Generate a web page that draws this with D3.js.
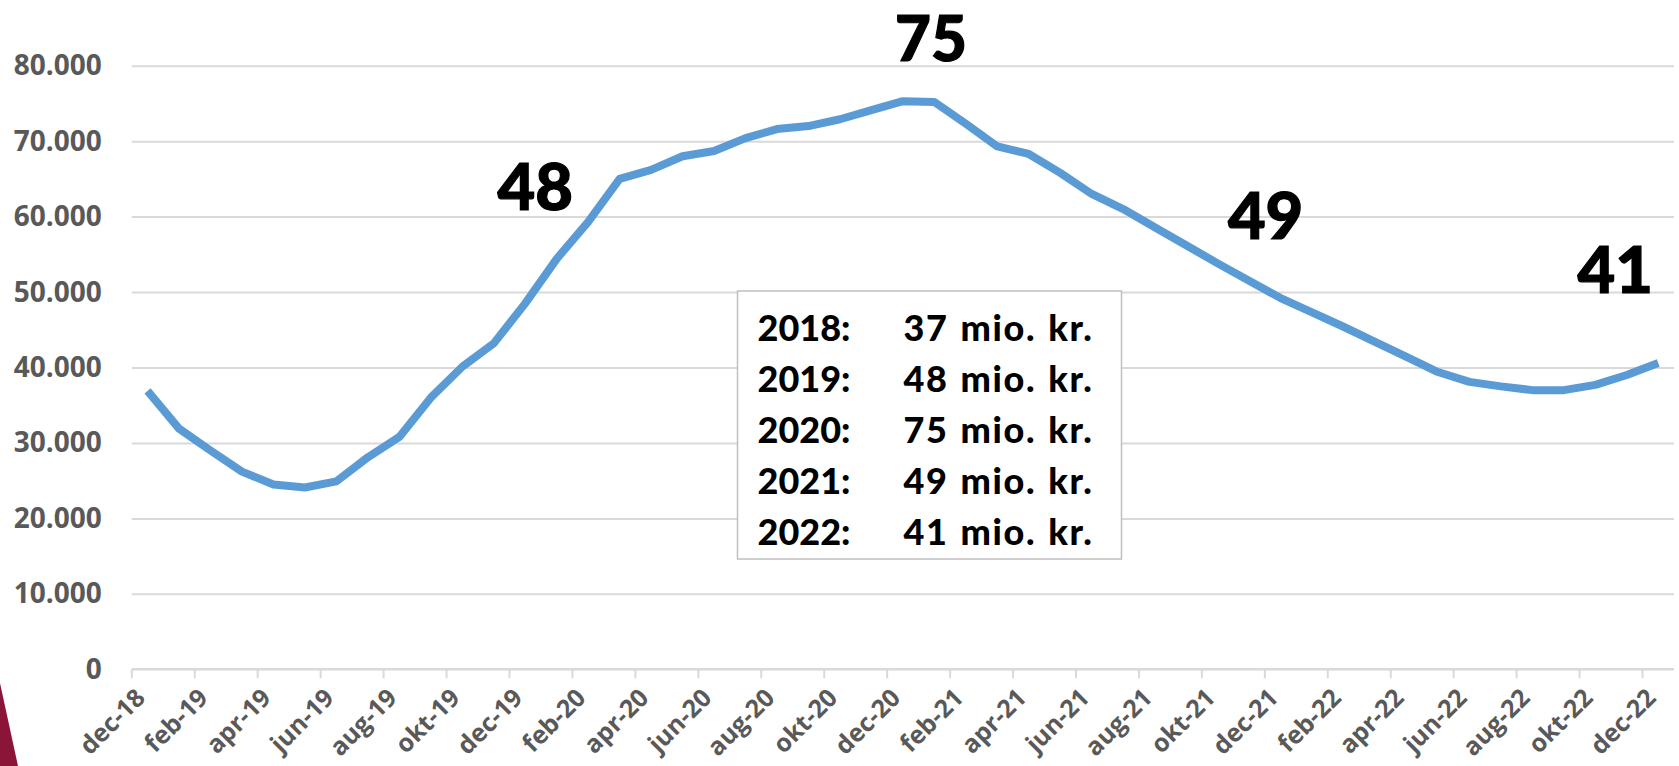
<!DOCTYPE html>
<html>
<head>
<meta charset="utf-8">
<script src="https://cdn.jsdelivr.net/npm/d3@7"></script>
<style>
  body { margin: 0; background: #fff; }
  #chart { display: block; }
  .ytick { font-family: "Open Sans", sans-serif; font-weight: 700; font-size: 28px; fill: #595959; }
  .big { font-family: Lato, "Open Sans", sans-serif; font-weight: 900; font-size: 65px; fill: #000; stroke: #000; stroke-width: 1.2px; }
  .boxtxt { font-family: Lato, "Open Sans", sans-serif; font-weight: 900; font-size: 36px; fill: #000; }
  .boxval { letter-spacing: 1.6px; word-spacing: 2px; }
</style>
</head>
<body>
<svg id="chart" width="1679" height="766"></svg>
<script>

/*    ========    DATA    =========    */

// monthly, dec-18 .. dec-22
var MONTHS = ["jan", "feb", "mar", "apr", "maj", "jun", "jul", "aug", "sep", "okt", "nov", "dec"];
var categories = [];
for (var yr = 18; yr <= 22; yr++) {
    MONTHS.forEach(function(m) { categories.push(m + "-" + yr); });
}
categories = categories.slice(11);   // start at dec-18

var values = [
    36900, 31900, 29000, 26200, 24500, 24100, 24900, 28100, 30800, 36000, 40100, 43200,
    48500, 54400, 59300, 65000, 66200, 68000, 68700, 70400, 71600, 72000, 72900, 74100,
    75300, 75200, 72300, 69300, 68300, 65800, 63000, 61000, 58600, 56200, 53800, 51500,
    49200, 47300, 45400, 43400, 41400, 39400, 38100, 37500, 37000, 37000, 37700, 39000,
    40600
];

var yTicks = [0, 10000, 20000, 30000, 40000, 50000, 60000, 70000, 80000];

// big year-end labels (mio. kr.) and the month they sit over
var callouts = [
    { label: "48", at: "dec-19" },
    { label: "75", at: "dec-20" },
    { label: "49", at: "dec-21" },
    { label: "41", at: "dec-22" }
];

var boxYears = ["2018:", "2019:", "2020:", "2021:", "2022:"];
var boxValues = ["37 mio. kr.", "48 mio. kr.", "75 mio. kr.", "49 mio. kr.", "41 mio. kr."];

/*    ========    SETTINGS    =========    */

var svg = d3.select('#chart');

var X0 = 131.8, X1 = 1674;
var Y0 = 669.3, Y1 = 65.7;

var GRID_COLOR = "#d9d9d9";
var LINE_COLOR = "#5b9bd5";

var xscale, yscale;

/*    ========    FUNCTIONS    =========    */

function fmt(num) {
    // danish thousands separator
    return d3.format(",")(num).replace(/,/g, ".");
}

function initPlotScales() {
    xscale = d3.scaleBand()
        .domain(categories)
        .range([X0, X1])
        .paddingInner(0)
        .paddingOuter(0);
    yscale = d3.scaleLinear()
        .domain([0, 80000])
        .range([Y0, Y1]);
}

function xc(cat) {
    return xscale(cat) + xscale.bandwidth() / 2;
}

function initPlots() {

    // little decorative corner wedge
    svg.append("path")
        .attr("d", "M0,683 L18,766 L0,766 Z")
        .attr("fill", "#8a1538");

    // gridlines + y labels
    var yAxis = d3.axisLeft(yscale)
        .tickValues(yTicks)
        .tickSize(-(X1 - X0))
        .tickPadding(30)
        .tickFormat(fmt);

    var gy = svg.append("g")
        .attr("transform", "translate(" + X0 + ",0)")
        .call(yAxis);
    gy.select(".domain").remove();
    gy.selectAll(".tick line")
        .attr("stroke", GRID_COLOR)
        .attr("stroke-width", 2)
        .filter(function(d) { return d === 0; }).remove();
    gy.selectAll(".tick text")
        .attr("class", "ytick")
        .attr("fill", null)
        .attr("font-size", null)
        .attr("font-family", null);

    // x axis: ticks between categories, every 2nd month
    var xAxis = d3.axisBottom(xscale)
        .tickValues(categories.filter(function(d, i) { return i % 2 === 0; }))
        .tickSize(0)
        .tickFormat("");

    var gx = svg.append("g")
        .attr("transform", "translate(0," + Y0 + ")")
        .call(xAxis);
    gx.select(".domain")
        .attr("stroke", GRID_COLOR)
        .attr("stroke-width", 2.5)
        .attr("d", "M" + X0 + ",0H" + X1);

    gx.selectAll(".tick").each(function(d) {
        var g = d3.select(this);
        g.attr("transform", "translate(" + xscale(d) + ",0)");
        g.select("line")
            .attr("stroke", GRID_COLOR)
            .attr("stroke-width", 2)
            .attr("y2", 9);
        g.select("text").remove();
        g.append("text")
            .attr("text-anchor", "end")
            .attr("transform", "translate(" + (xscale.bandwidth() / 2 - 1) + ",30) rotate(-45)")
            .style("font-family", "'Open Sans', sans-serif")
            .style("font-weight", "700")
            .style("font-size", "25px")
            .style("fill", "#595959")
            .text(d);
    });
}

function plotLines() {
    var line = d3.line()
        .x(function(d, i) { return xc(categories[i]); })
        .y(function(d) { return yscale(d); });

    svg.append("path")
        .datum(values)
        .attr("fill", "none")
        .attr("stroke", LINE_COLOR)
        .attr("stroke-width", 8)
        .attr("stroke-linejoin", "round")
        .attr("d", line);
}

function plotLabels() {
    // y positions of the big numbers (baselines)
    var baseY = { "dec-19": 210, "dec-20": 61, "dec-21": 239, "dec-22": 293 };
    var offX = { "dec-19": 10, "dec-20": 28, "dec-21": -15, "dec-22": -43 };

    svg.selectAll("text.big")
        .data(callouts).enter()
        .append("text")
        .attr("class", "big")
        .attr("text-anchor", "middle")
        .attr("x", function(d) { return xc(d.at) + offX[d.at]; })
        .attr("y", function(d) { return baseY[d.at]; })
        .style("font-size", function(d) { return d.at === "dec-20" ? "62px" : null; })
        .text(function(d) { return d.label; });

    // the summary box
    var bx = 737.5, by = 291, bw = 384, bh = 268;
    svg.append("rect")
        .attr("x", bx).attr("y", by)
        .attr("width", bw).attr("height", bh)
        .attr("fill", "#fff")
        .attr("stroke", "#bfbfbf")
        .attr("stroke-width", 1.5);

    var rows = svg.append("g");
    boxYears.forEach(function(yname, i) {
        var ty = 341 + i * 51;
        rows.append("text")
            .attr("class", "boxtxt")
            .attr("x", bx + 20).attr("y", ty)
            .text(yname);
        rows.append("text")
            .attr("class", "boxtxt boxval")
            .attr("x", bx + 166).attr("y", ty)
            .text(boxValues[i]);
    });
}

/*    ========    RUN    =========    */

initPlotScales();
initPlots();
plotLines();
plotLabels();

</script>
</body>
</html>
